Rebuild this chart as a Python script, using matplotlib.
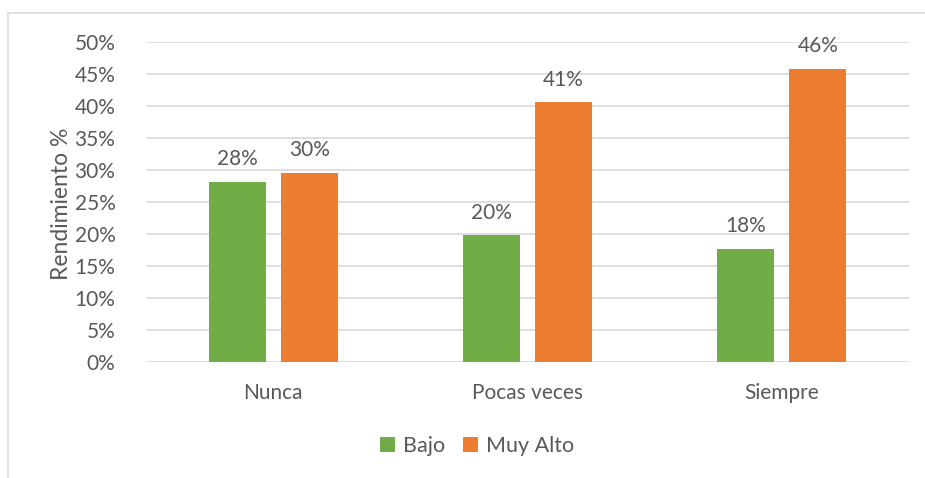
import matplotlib.pyplot as plt
from matplotlib.patches import Rectangle
import numpy as np

categories = ["Nunca", "Pocas veces", "Siempre"]
bajo = [28.2, 19.8, 17.7]
muy_alto = [29.6, 40.6, 45.8]
series_names = ["Bajo", "Muy Alto"]
yticks = [0, 5, 10, 15, 20, 25, 30, 35, 40, 45, 50]

GREEN = "#70AD47"
ORANGE = "#ED7D31"
TEXT = "#595959"
GRID = "#D9D9D9"

plt.rcParams["font.family"] = ["Lato", "DejaVu Sans"]

W, H = 925, 478
fig = plt.figure(figsize=(W / 100, H / 100), dpi=100)

# outer chart frame (extends past the right and bottom edges)
fig.patches.append(Rectangle((8 / W, -0.2), 1.2, (H - 13) / H + 0.2, transform=fig.transFigure,
                             fill=False, edgecolor=GRID, linewidth=1.2))

ax = fig.add_axes([146 / W, (H - 362) / H, (909 - 146) / W, (362 - 42) / H])

x = np.arange(len(categories))
bw = 0.224
off = 0.1415
b1 = ax.bar(x - off, bajo, bw, color=GREEN, label=series_names[0], zorder=3)
b2 = ax.bar(x + off, muy_alto, bw, color=ORANGE, label=series_names[1], zorder=3)

for bars, vals in ((b1, bajo), (b2, muy_alto)):
    for r, v in zip(bars, vals):
        ax.annotate(f"{v:.0f}%", (r.get_x() + r.get_width() / 2, v),
                    xytext=(0, 9), textcoords="offset points",
                    ha="center", va="bottom", fontsize=15, color=TEXT)

ax.set_xlim(-0.5, 2.5)
ax.set_ylim(0, 50)
ax.set_yticks(yticks)
ax.set_yticklabels([f"{t}%" for t in yticks])
ax.set_xticks(x)
ax.set_xticklabels(categories)
ax.tick_params(axis="both", length=0, labelsize=15, colors=TEXT)
ax.tick_params(axis="y", pad=22)
ax.tick_params(axis="x", pad=15)
ax.grid(axis="y", color=GRID, linewidth=1.2, zorder=0)
for s in ax.spines.values():
    s.set_visible(False)

fig.text(62 / W, 1 - 204 / H, "Rendimiento %", rotation=90, ha="center", va="center",
         fontsize=16.5, color=TEXT)

leg = fig.legend(handles=[b1, b2], loc="center", bbox_to_anchor=(477 / W, 1 - 446 / H),
                 ncol=2, frameon=False, fontsize=15.5, handlelength=0.7, handleheight=0.7,
                 handletextpad=0.4, columnspacing=0.8)
for t in leg.get_texts():
    t.set_color(TEXT)

fig.savefig("out.png", dpi=100)
